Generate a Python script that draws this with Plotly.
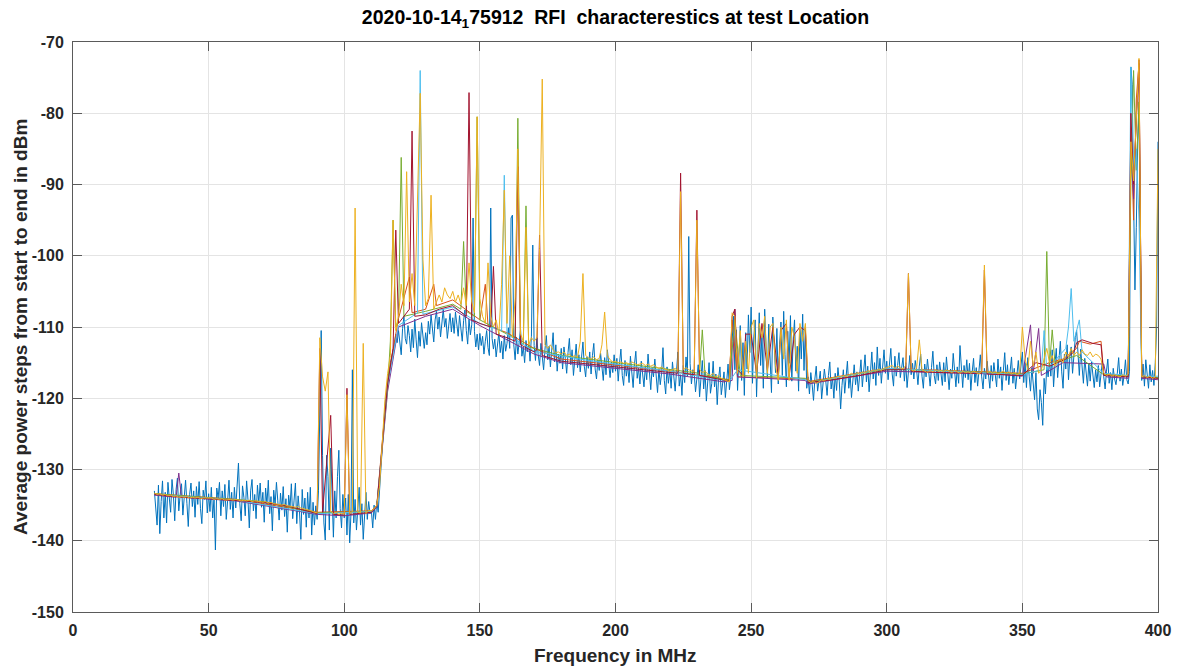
import numpy as np
import plotly.graph_objects as go

# ---------------- data ----------------
# Frequency grid of the noisy (blue) trace: 30 MHz .. 400 MHz, 0.5 MHz steps
blue_start_mhz = 30.0
blue_step_mhz = 0.5
blue_dbm = [
    -133.0,-135.5,-137.8,-132.2,-139.0,-134.5,-131.6,-136.8,-133.2,-137.5,-131.8,-134.0,-136.0,-131.4,-133.5,-137.2,-132.8,-131.2,-135.8,-133.6,
    -132.0,-136.4,-133.1,-131.5,-134.8,-138.0,-133.5,-131.9,-135.2,-133.0,-136.7,-132.4,-134.9,-131.7,-135.5,-137.6,-132.9,-134.2,-131.6,-136.1,
    -133.4,-135.9,-132.5,-136.8,-134.0,-141.3,-132.6,-134.0,-131.8,-136.5,-133.0,-135.2,-132.1,-137.0,-134.4,-131.5,-135.6,-133.2,-136.8,-132.5,
    -135.4,-131.7,-129.1,-134.8,-137.2,-132.3,-133.9,-136.5,-131.6,-134.2,-138.2,-133.0,-131.4,-135.8,-133.5,-136.9,-132.2,-134.7,-131.9,-135.3,
    -133.2,-137.4,-132.6,-134.9,-131.5,-136.2,-133.8,-138.6,-132.9,-135.0,-131.8,-134.4,-137.1,-133.3,-135.7,-132.4,-136.6,-134.1,-138.8,-133.6,
    -135.4,-132.0,-136.9,-134.3,-131.9,-137.6,-133.7,-135.9,-139.8,-132.8,-136.3,-134.0,-138.1,-133.2,-136.8,-132.5,-139.2,-134.6,-137.8,-135.1,
    -137.0,-133.0,-120.0,-110.5,-128.0,-137.5,-139.9,-128.0,-131.0,-138.5,-127.0,-135.5,-139.5,-133.0,-136.8,-131.0,-127.3,-135.5,-138.2,-133.5,
    -136.8,-134.0,-139.2,-133.5,-140.3,-136.0,-116.0,-137.5,-134.2,-138.5,-135.0,-132.5,-137.8,-134.8,-139.8,-135.5,-133.2,-137.0,-134.5,-136.2,
    -135.8,-138.2,-135.0,-137.0,-134.5,-136.0,-133.0,-130.5,-127.0,-123.5,-121.0,-119.5,-117.5,-116.8,-115.0,-114.2,-113.5,-112.5,-111.0,-112.2,
    -110.5,-112.8,-113.9,-110.2,-108.5,-111.6,-112.4,-109.8,-111.2,-113.5,-110.3,-112.9,-108.9,-111.8,-114.3,-110.6,-112.7,-109.4,-111.5,-113.0,
    -110.8,-112.5,-109.2,-111.0,-108.3,-110.6,-112.1,-109.0,-107.8,-110.3,-108.6,-111.4,-109.3,-107.5,-110.0,-108.8,-111.6,-109.5,-108.1,-110.7,
    -108.7,-110.9,-107.9,-109.6,-111.3,-108.4,-110.2,-112.0,-109.1,-107.6,-110.5,-112.4,-108.9,-111.1,-109.7,-94.7,-110.6,-112.8,-111.0,-113.2,
    -110.9,-112.6,-111.3,-113.8,-112.0,-110.5,-112.9,-114.0,-93.3,-111.6,-113.1,-111.7,-114.2,-112.4,-110.8,-113.6,-112.0,-114.5,-111.2,-113.4,
    -112.3,-110.1,-113.0,-94.7,-94.3,-112.5,-114.6,-111.4,-113.8,-112.1,-110.3,-114.1,-112.8,-115.0,-111.9,-113.5,-112.2,-114.8,-111.3,-98.5,
    -112.6,-114.7,-111.5,-113.9,-115.4,-112.3,-114.2,-116.0,-113.1,-111.2,-114.6,-112.7,-115.6,-113.4,-110.8,-114.9,-112.5,-116.2,-113.8,-115.1,
    -113.0,-115.9,-112.8,-114.4,-116.5,-113.6,-111.6,-115.3,-113.2,-116.8,-114.1,-112.4,-115.7,-113.9,-116.3,-114.5,-112.1,-115.5,-117.0,-114.2,
    -115.8,-113.5,-116.6,-114.0,-112.3,-115.9,-117.3,-114.6,-116.1,-113.7,-115.4,-117.5,-114.3,-116.7,-113.2,-115.1,-117.1,-114.9,-116.4,-113.9,
    -116.2,-114.4,-117.6,-115.0,-113.1,-116.8,-118.2,-114.7,-116.9,-115.3,-117.8,-114.1,-116.5,-118.5,-115.2,-113.4,-117.2,-115.8,-118.0,-114.8,
    -116.6,-118.4,-115.5,-117.4,-113.8,-116.3,-118.8,-115.7,-117.0,-114.5,-117.7,-119.2,-115.9,-118.1,-116.4,-112.9,-117.5,-119.4,-115.6,-117.9,
    -116.0,-118.6,-114.9,-117.3,-119.0,-116.2,-113.5,-118.3,-116.7,-119.6,-115.4,-117.8,-114.2,-116.9,-97.3,-115.1,-118.0,-116.0,-116.5,-119.1,
    -117.6,-115.3,-119.8,-117.0,-114.7,-118.7,-116.1,-120.4,-117.4,-115.0,-119.3,-117.9,-114.8,-118.4,-116.6,-120.9,-117.2,-115.6,-119.5,-118.0,
    -116.3,-119.9,-117.7,-115.2,-118.8,-117.1,-112.0,-108.5,-116.0,-110.4,-118.9,-114.0,-109.8,-117.5,-112.2,-119.6,-110.8,-115.9,-108.3,-113.6,
    -107.2,-117.9,-111.4,-109.0,-119.8,-113.2,-108.0,-115.4,-111.0,-118.6,-107.5,-112.8,-117.2,-109.6,-114.7,-119.2,-108.6,-113.0,-116.4,-110.2,
    -118.0,-112.5,-109.3,-116.8,-107.8,-113.9,-118.4,-110.6,-115.1,-108.4,-117.6,-111.8,-109.0,-116.2,-112.7,-119.0,-110.3,-114.5,-108.2,-116.1,
    -110.0,-118.6,-117.0,-119.4,-116.4,-118.1,-120.3,-117.3,-115.5,-119.0,-117.8,-116.2,-120.1,-118.3,-115.9,-117.5,-119.6,-116.8,-114.9,-118.7,
    -117.1,-120.0,-116.5,-118.9,-115.7,-117.6,-121.5,-118.2,-116.0,-119.3,-117.0,-114.8,-118.6,-116.7,-119.9,-117.4,-115.3,-118.1,-116.3,-119.0,
    -116.9,-114.6,-118.4,-116.0,-113.9,-117.7,-115.5,-119.1,-116.2,-113.5,-117.3,-115.0,-118.2,-112.8,-116.8,-114.4,-117.9,-115.6,-113.2,-116.5,
    -114.8,-117.4,-115.2,-113.0,-116.6,-118.3,-114.1,-116.9,-115.4,-113.6,-117.1,-115.8,-114.3,-117.6,-115.0,-118.5,-116.3,-114.0,-116.7,-115.1,
    -117.3,-114.7,-116.0,-118.1,-115.5,-113.8,-116.9,-118.6,-115.2,-117.0,-114.5,-116.4,-118.3,-115.7,-113.4,-116.8,-118.0,-115.3,-117.5,-114.9,
    -116.6,-118.2,-115.0,-117.7,-114.2,-116.5,-118.8,-115.9,-117.2,-113.7,-116.1,-118.4,-115.6,-117.9,-112.6,-116.2,-118.5,-115.4,-117.1,-114.6,
    -117.4,-115.1,-118.9,-116.3,-114.4,-117.8,-115.7,-118.3,-116.0,-113.9,-117.0,-118.7,-115.8,-117.3,-114.8,-116.9,-118.6,-115.4,-117.6,-115.0,
    -116.7,-118.4,-114.5,-117.2,-115.6,-118.9,-116.1,-113.6,-117.5,-115.3,-118.1,-116.4,-114.2,-117.9,-115.8,-118.7,-116.0,-114.7,-117.3,-115.2,
    -113.5,-117.8,-115.0,-118.5,-114.3,-116.9,-119.0,-115.7,-117.6,-120.2,-116.4,-121.5,-123.0,-118.8,-120.6,-123.8,-117.2,-119.4,-115.5,-117.0,
    -114.8,-116.9,-113.2,-118.4,-115.3,-113.0,-117.1,-114.7,-112.0,-116.3,-118.6,-113.8,-115.9,-112.5,-117.4,-114.2,-112.8,-116.5,-114.0,-111.5,
    -110.5,-114.6,-116.8,-113.1,-115.7,-117.9,-114.4,-116.2,-118.3,-115.1,-117.6,-114.9,-117.2,-118.5,-116.0,-117.7,-115.4,-118.4,-116.6,-114.8,
    -117.0,-118.7,-116.2,-114.5,-117.9,-116.4,-118.8,-115.8,-117.3,-118.1,-116.5,-114.3,-117.6,-115.9,-118.2,-116.8,-114.6,-117.4,-118.0,-116.2,
    -73.5,-76.0,-92.0,-104.8,-96.0,-84.0,-80.0,-97.0,-117.5,-115.2,-118.3,-114.6,-117.0,-118.6,-115.3,-117.7,-116.1,-118.2,-115.0,-110.0,
    -84.0,
]

# Yellow trace: 30 MHz .. 400 MHz, 1 MHz steps
yellow_start_mhz = 30.0
yellow_step_mhz = 1.0
yellow_dbm = [
    -133.3,-133.5,-133.4,-133.6,-133.5,-133.7,-133.6,-133.8,-133.7,-133.9,
    -133.8,-133.9,-133.8,-134.0,-133.9,-134.0,-133.9,-134.1,-134.0,-134.0,
    -134.1,-134.0,-134.2,-134.1,-134.2,-134.1,-134.3,-134.2,-134.2,-134.3,
    -134.2,-134.3,-134.4,-134.3,-134.4,-134.3,-134.5,-134.4,-134.4,-134.5,
    -134.6,-134.5,-134.7,-134.6,-134.8,-134.8,-134.9,-135.0,-134.9,-135.1,
    -135.1,-135.2,-135.3,-135.2,-135.4,-135.5,-135.5,-135.7,-135.8,-136.0,
    -136.1,-111.5,-117.0,-119.0,-116.3,-135.8,-136.2,-136.0,-136.3,-136.1,
    -136.3,-119.5,-136.2,-135.9,-93.3,-136.0,-136.1,-112.3,-136.2,-135.7,
    -135.8,-135.5,-135.0,-132.4,-126.0,-120.2,-116.5,-114.0,-95.0,-110.5,
    -108.5,-104.0,-107.0,-88.2,-106.5,-102.5,-107.0,-93.1,-77.2,-100.5,
    -107.0,-106.0,-91.5,-107.5,-106.5,-105.5,-106.5,-104.5,-105.5,-106.0,
    -105.0,-106.5,-105.5,-106.8,-104.5,-107.0,-101.0,-106.5,-108.0,-80.5,
    -106.0,-108.5,-109.5,-101.0,-108.5,-110.0,-109.0,-111.0,-104.0,-90.8,
    -109.5,-100.0,-111.5,-106.0,-85.0,-111.0,-112.0,-96.0,-112.5,-111.5,
    -112.0,-111.5,-99.0,-75.2,-112.5,-113.0,-112.5,-113.2,-113.6,-113.5,
    -113.8,-113.5,-114.0,-113.8,-114.2,-114.0,-114.3,-112.0,-102.5,-114.0,
    -114.3,-114.5,-114.2,-114.6,-114.4,-112.5,-107.9,-114.0,-114.6,-114.9,
    -114.8,-115.0,-114.9,-115.1,-115.0,-115.2,-114.9,-115.1,-115.3,-115.2,
    -115.1,-115.4,-115.2,-115.5,-115.3,-115.6,-115.8,-115.6,-115.9,-116.0,
    -116.2,-116.0,-115.8,-116.1,-91.0,-116.0,-115.7,-116.0,-116.2,-116.3,
    -95.0,-116.0,-116.4,-116.2,-116.6,-116.8,-116.5,-117.0,-116.8,-117.2,
    -117.4,-117.5,-117.7,-108.0,-108.5,-116.5,-110.5,-117.0,-112.0,-116.5,
    -110.0,-109.0,-117.2,-109.5,-111.5,-108.5,-116.5,-110.0,-109.5,-115.5,
    -117.5,-110.0,-114.5,-109.0,-117.5,-110.0,-111.5,-116.5,-109.5,-112.0,
    -109.5,-117.5,-117.8,-117.6,-117.9,-117.7,-117.4,-117.6,-117.2,-117.4,
    -117.1,-117.2,-116.9,-117.1,-116.8,-117.0,-116.7,-116.5,-116.8,-116.4,
    -116.6,-116.3,-116.5,-116.1,-116.3,-116.0,-116.2,-115.9,-116.1,-115.8,
    -115.7,-115.6,-115.4,-115.8,-115.5,-115.7,-115.9,-115.4,-102.5,-116.0,
    -116.2,-115.8,-111.8,-116.0,-116.2,-116.4,-116.1,-116.3,-116.0,-116.2,
    -116.1,-116.3,-116.0,-116.2,-116.4,-116.1,-116.3,-116.5,-116.2,-116.4,
    -116.3,-116.5,-116.2,-116.4,-116.6,-116.3,-101.3,-116.4,-116.2,-116.5,
    -116.3,-116.6,-116.4,-116.2,-116.5,-116.3,-116.6,-116.4,-116.7,-116.5,
    -110.0,-114.5,-116.0,-112.0,-115.5,-113.5,-116.5,-116.0,-114.5,-113.0,
    -115.0,-114.0,-115.5,-114.8,-114.5,-115.0,-113.5,-114.2,-113.0,-114.0,
    -113.5,-114.0,-113.2,-113.8,-114.0,-113.5,-114.2,-113.8,-114.0,-114.5,
    -116.5,-116.8,-116.6,-116.9,-116.7,-116.8,-117.0,-116.7,-116.9,-116.6,
    -84.0,-89.5,-80.0,-72.3,-117.0,-116.8,-117.1,-116.9,-117.2,-117.0,
    -85.0,
]

# Other traces (frequency MHz / level dBm pairs)
red_mhz = [30,40,50,60,70,80,90,91,92,95,96,100,101,102,110,112,114,116,118,119,120,122,124,125,126,130,135,140,145,146,147,150,154,155,156,160,163,164,165,170,171,172,173,180,190,200,210,220,223,224,225,229,230,231,240,242,
           243,244,245,247,248,250,252,254,256,258,260,261,263,264,266,268,270,271,280,290,300,307,308,309,320,335,336,337,350,355,360,366,369,370,372,376,379,380,389,390,391,393,394,400]
red_dbm = [-133.5,-133.9,-134.1,-134.3,-134.6,-135.2,-136.2,-113.0,-136.0,-122.4,-136.3,-136.4,-118.6,-136.3,-136.0,-135.2,-127.0,-118.0,-113.0,-96.4,-109.5,-108.5,-107.5,-82.5,-108.5,-108.3,-107.5,-107.0,-108.5,-77.1,-109.0,-109.5,-110.0,-101.5,-111.0,-111.5,-112.0,-87.5,-112.5,-113.5,-113.2,-97.1,-114.0,-114.8,-115.2,-115.5,-116.0,-116.4,-116.5,-88.4,-116.5,-116.7,-93.6,-116.8,-117.5,-117.6,
           -108.5,-107.5,-116.0,-116.8,-111.0,-111.0,-116.5,-109.5,-116.0,-110.0,-117.0,-110.5,-109.5,-117.0,-111.0,-110.0,-110.5,-117.8,-117.4,-116.8,-116.0,-116.0,-102.5,-116.2,-116.4,-116.5,-102.0,-116.6,-116.8,-115.0,-115.5,-114.5,-113.5,-112.2,-111.8,-112.3,-112.5,-116.8,-117.0,-80.0,-90.0,-72.5,-117.0,-117.2]

purple_mhz = [30,38,39,40,60,90,100,110,112,116,120,130,140,150,160,170,180,200,220,240,243,244,245,270,271,300,340,350,353,354,356,357,365,380,381,389,390,391,392,393,394,400]
purple_dbm = [-133.6,-133.9,-130.5,-133.9,-134.4,-136.3,-136.5,-136.1,-135.3,-119.0,-110.0,-108.5,-107.5,-109.8,-111.8,-113.8,-115.0,-115.8,-116.6,-117.7,-117.5,-107.5,-117.0,-117.5,-118.0,-116.2,-116.6,-116.9,-109.7,-116.5,-110.2,-116.8,-115.0,-115.2,-117.0,-117.2,-85.0,-92.0,-80.0,-75.0,-117.2,-117.4]

green_mhz = [30,50,70,90,110,112,116,117,118,119,120,121,122,130,140,143,144,145,148,149,150,160,163,164,165,166,167,168,180,190,200,220,231,232,233,242,244,246,270,272,300,340,350,358,359,360,361,362,370,380,389,390,391,392,393,394,400]
green_dbm = [-133.4,-134.0,-134.5,-136.1,-135.9,-135.1,-118.5,-112.0,-95.0,-110.0,-109.0,-86.2,-108.5,-107.8,-106.8,-107.5,-98.0,-107.8,-108.5,-80.5,-109.0,-111.0,-111.5,-80.7,-112.0,-112.5,-93.0,-112.8,-114.0,-114.5,-115.0,-116.0,-116.5,-110.4,-116.7,-117.5,-109.0,-116.8,-117.2,-117.7,-115.9,-116.4,-116.6,-116.0,-99.4,-115.5,-110.4,-115.0,-114.0,-116.7,-116.9,-90.0,-74.0,-88.0,-78.4,-117.0,-117.1]

cyan_mhz = [30,60,90,110,112,116,120,127,128,129,140,150,158,159,160,170,190,220,242,245,270,272,300,350,357,358,359,366,367,368,369,371,372,380,389,390,391,392,393,394,400]
cyan_dbm = [-133.5,-134.3,-136.2,-135.9,-135.2,-118.2,-109.8,-108.0,-74.0,-108.2,-107.2,-109.5,-110.5,-88.7,-111.0,-113.4,-114.7,-116.2,-117.6,-116.0,-117.4,-117.8,-115.8,-116.7,-116.0,-110.5,-116.0,-113.0,-110.0,-104.6,-112.0,-109.0,-113.5,-116.5,-116.8,-73.5,-90.0,-85.0,-95.0,-117.0,-116.9]

orange_mhz = [30,60,90,110,112,116,120,124,125,130,133,134,140,150,152,153,160,170,180,200,220,242,243,245,270,272,300,350,360,365,370,371,375,379,380,389,390,391,392,393,394,400]
orange_dbm = [-133.4,-134.2,-136.0,-135.8,-135.0,-117.5,-108.8,-103.0,-108.0,-107.5,-104.0,-107.0,-106.2,-109.0,-104.0,-109.8,-110.8,-113.0,-114.5,-115.3,-116.2,-117.4,-109.0,-117.0,-117.3,-117.6,-115.8,-116.5,-115.0,-114.5,-113.0,-112.0,-112.4,-112.0,-116.6,-116.9,-82.0,-95.0,-78.0,-73.0,-117.0,-117.2]

x_ticks = [0, 50, 100, 150, 200, 250, 300, 350, 400]
y_ticks = [-150, -140, -130, -120, -110, -100, -90, -80, -70]
y_tick_labels = ["-150", "-140", "-130", "-120", "-110", "-100", "-90", "-80", "-70"]

title_text = "2020-10-14<sub>1</sub>75912\u00a0\u00a0RFI\u00a0\u00a0characterestics at test Location"
x_label = "Frequency in MHz"
y_label = "Average power steps from start to end in dBm"

# ---------------- figure ----------------
blue_mhz = blue_start_mhz + blue_step_mhz * np.arange(len(blue_dbm))
yellow_mhz = yellow_start_mhz + yellow_step_mhz * np.arange(len(yellow_dbm))

traces = [
    (blue_mhz, blue_dbm, "#0072BD"),
    (orange_mhz, orange_dbm, "#D95319"),
    (purple_mhz, purple_dbm, "#7E2F8E"),
    (green_mhz, green_dbm, "#77AC30"),
    (cyan_mhz, cyan_dbm, "#4DBEEE"),
    (red_mhz, red_dbm, "#A2142F"),
    (yellow_mhz, yellow_dbm, "#EDB120"),
]

fig = go.Figure()
for xs, ys, col in traces:
    fig.add_trace(go.Scatter(x=list(xs), y=ys, mode="lines",
                             line=dict(color=col, width=1), hoverinfo="skip"))

W, H = 1185, 672
FONT = "Liberation Sans, Arial, Helvetica, sans-serif"
axis_common = dict(
    showgrid=True, gridcolor="#e4e4e4", gridwidth=1,
    zeroline=False, showline=True, linecolor="#5a5a5a", linewidth=1,
    mirror="ticks", ticks="inside", ticklen=9, tickcolor="#5a5a5a",
    tickfont=dict(family=FONT, size=16, color="#262626", weight="bold"),
)

fig.update_layout(
    width=W, height=H,
    margin=dict(l=73, r=27, t=42, b=60),
    paper_bgcolor="white", plot_bgcolor="white",
    showlegend=False,
    font=dict(family=FONT, color="#262626"),
    title=dict(text="<b>" + title_text + "</b>", x=615.5 / W, xanchor="center",
               y=1 - 17 / H, yanchor="middle", yref="container",
               font=dict(family=FONT, size=19.5, color="#000000")),
    xaxis=dict(range=[0, 400], tickvals=x_ticks, ticklabelstandoff=4, **axis_common),
    yaxis=dict(range=[-150, -70], tickvals=y_ticks, ticktext=y_tick_labels,
               ticklabelstandoff=5, **axis_common),
    annotations=[
        dict(text="<b>" + x_label + "</b>", xref="paper", yref="paper", x=0.5, y=0,
             xanchor="center", yanchor="middle", yshift=-43, showarrow=False,
             font=dict(family=FONT, size=19, color="#262626")),
        dict(text="<b>" + y_label + "</b>", xref="paper", yref="paper", x=0, y=0.5,
             xanchor="center", yanchor="middle", xshift=-53, textangle=-90, showarrow=False,
             font=dict(family=FONT, size=19, color="#262626")),
    ],
)

# remove the browser's default 8 px body margin so the figure fills the window
fig.write_html("out.html", config={"displayModeBar": False},
               post_script="document.body.style.margin='0';document.body.style.overflow='hidden';")
